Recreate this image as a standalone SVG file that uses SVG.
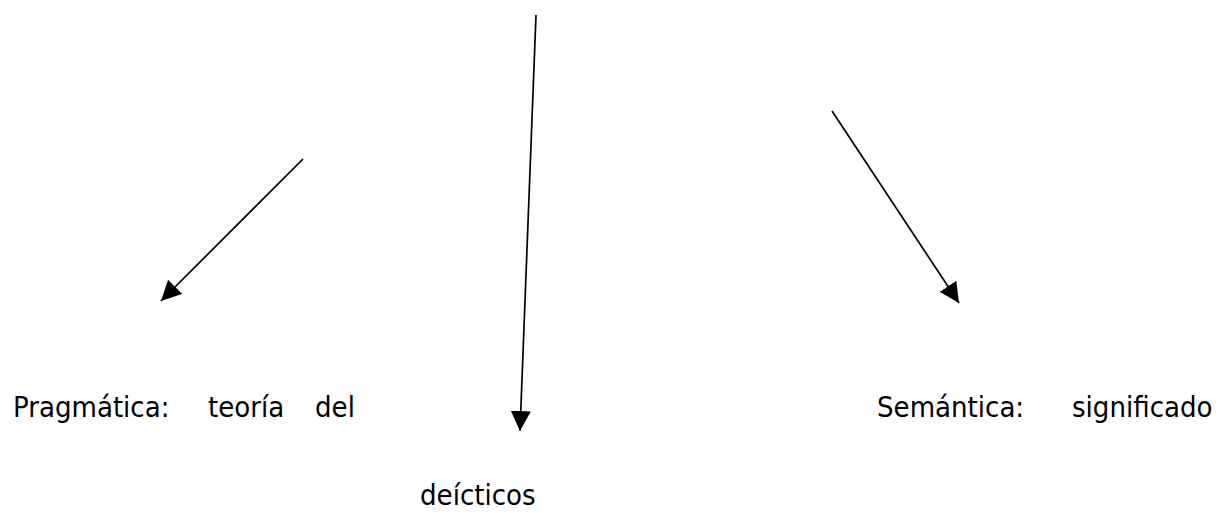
<svg xmlns="http://www.w3.org/2000/svg" width="1225" height="513" viewBox="0 0 1225 513">
  <style>
    .t { font-family: "DejaVu Sans Condensed", "DejaVu Sans", sans-serif; font-stretch: condensed; font-size: 29px; fill: #000; }
    .c { stroke: #000; stroke-width: 1.7; fill: none; marker-end: url(#ah); }
  </style>
  <defs>
    <marker id="ah" viewBox="0 0 20 20" refX="20" refY="10" markerWidth="20" markerHeight="20" markerUnits="userSpaceOnUse" orient="auto">
      <path d="M0,0 L20,10 L0,20 z" fill="#000"/>
    </marker>
  </defs>
  <rect width="1225" height="513" fill="#fff"/>
  <g id="connectors">
    <line class="c" x1="303" y1="159" x2="161" y2="301"/>
    <line class="c" x1="536" y1="15" x2="520" y2="431"/>
    <line class="c" x1="832" y1="111" x2="959" y2="303"/>
  </g>
  <g id="pragmatica">
    <text class="t" x="13" y="417">Pragmática:</text>
    <text class="t" x="208" y="417">teoría</text>
    <text class="t" x="315" y="417">del</text>
  </g>
  <g id="deicticos">
    <text class="t" x="420" y="505">deícticos</text>
  </g>
  <g id="semantica">
    <text class="t" x="877" y="417">Semántica:</text>
    <text class="t" x="1072" y="417">significado</text>
  </g>
</svg>
